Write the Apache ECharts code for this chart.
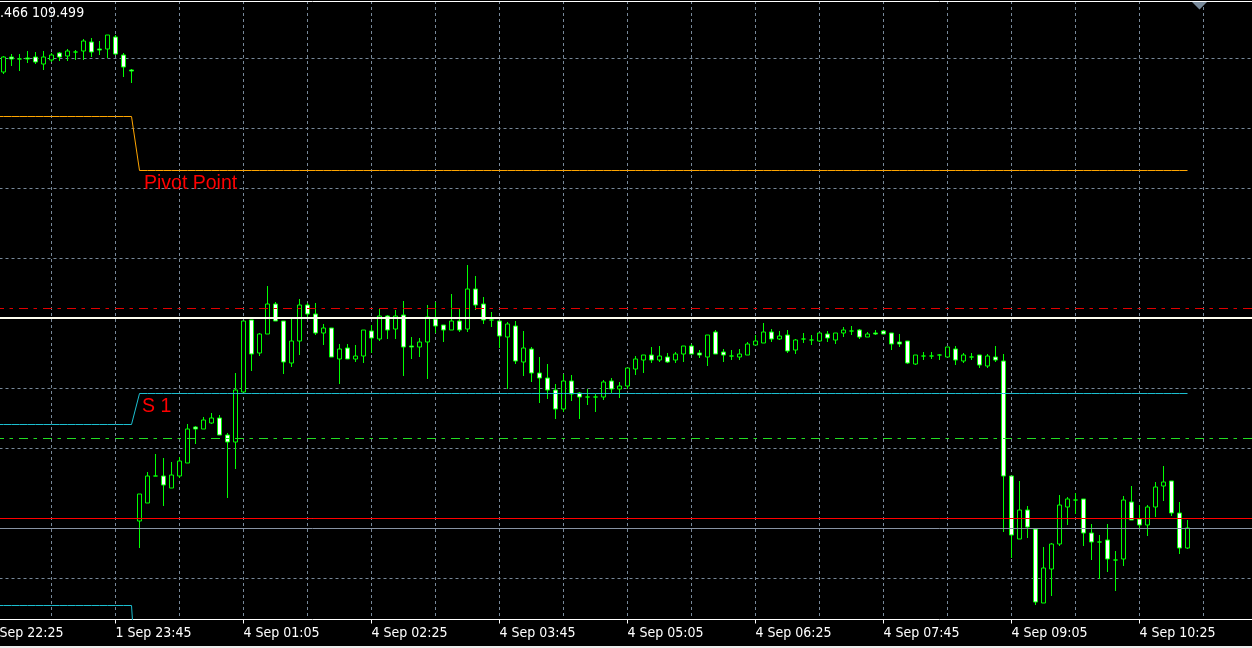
<!DOCTYPE html>
<html>
<head>
<meta charset="utf-8">
<script src="https://cdn.jsdelivr.net/npm/echarts@6/dist/echarts.min.js"></script>
<style>
html,body{margin:0;padding:0;background:#000;}
#chart{width:1252px;height:648px;}
</style>
</head>
<body>
<div id="chart"></div>
<script>
// ---------- DATA ----------
// trading sessions shown on the time axis (M5 bars)
const sessionDays   = ['1 Sep', '4 Sep'];
const sessionStarts = ['22:25', '00:00'];
const sessionBars   = [19, 141];
const leadingEmptyBars = 2; // 22:25 and 22:30 bars are off the left edge

// OHLC of the visible candles (1 Sep 22:35 ... 4 Sep 10:55)
const openPrices = [
109.946,109.961,109.959,109.960,109.961,109.954,109.958,109.965,109.962,109.966,
109.967,109.976,109.969,109.969,109.981,109.963,109.948,
109.497,109.515,109.542,109.542,109.530,109.542,109.555,109.591,109.589,109.595,
109.600,109.583,109.576,109.626,109.698,109.665,109.684,109.714,109.697,109.655,
109.677,109.713,109.704,109.685,109.690,109.659,109.670,109.659,109.662,109.687,
109.679,109.702,109.689,109.703,109.672,109.671,109.676,109.699,109.693,109.688,
109.697,109.689,109.729,109.714,109.698,109.697,109.681,109.692,109.656,109.669,
109.645,109.640,109.628,109.609,109.637,109.625,109.621,109.621,109.621,109.637,
109.629,109.632,109.649,109.658,109.663,109.658,109.661,109.658,109.664,109.672,
109.665,109.661,109.686,109.666,109.662,109.661,109.663,109.673,109.675,109.686,
109.679,109.683,109.668,109.679,109.678,109.677,109.684,109.678,109.685,109.687,
109.688,109.681,109.685,109.687,109.685,109.676,109.677,109.654,109.662,109.662,
109.663,109.661,109.669,109.657,109.661,109.663,109.652,109.661,109.657,109.542,
109.479,109.508,109.489,109.415,109.449,109.474,109.511,109.518,109.519,109.485,
109.476,109.478,109.458,109.459,109.516,109.499,109.493,109.511,109.532,109.537,
109.505,109.470
];
const highPrices = [
109.962,109.964,109.964,109.967,109.966,109.967,109.965,109.966,109.969,109.968,
109.979,109.980,109.977,109.983,109.983,109.965,109.949,
109.524,109.546,109.564,109.560,109.556,109.561,109.594,109.592,109.601,109.605,
109.603,109.585,109.645,109.697,109.698,109.685,109.732,109.716,109.697,109.701,
109.719,109.715,109.715,109.694,109.690,109.674,109.674,109.673,109.688,109.693,
109.709,109.703,109.708,109.717,109.681,109.680,109.713,109.716,109.693,109.724,
109.709,109.753,109.742,109.721,109.706,109.697,109.696,109.697,109.687,109.671,
109.661,109.654,109.634,109.644,109.643,109.626,109.629,109.624,109.638,109.640,
109.636,109.650,109.662,109.663,109.671,109.672,109.665,109.666,109.672,109.674,
109.668,109.683,109.688,109.669,109.668,109.669,109.676,109.683,109.695,109.689,
109.687,109.688,109.679,109.685,109.683,109.685,109.687,109.685,109.691,109.692,
109.689,109.686,109.688,109.688,109.685,109.684,109.677,109.663,109.666,109.666,
109.664,109.671,109.672,109.665,109.665,109.663,109.664,109.672,109.664,109.542,
109.537,109.512,109.489,109.471,109.475,109.523,109.521,109.525,109.519,109.494,
109.483,109.494,109.467,109.522,109.532,109.513,109.513,109.536,109.552,109.537,
109.516,109.498
];
const lowPrices = [
109.944,109.952,109.947,109.955,109.954,109.948,109.956,109.957,109.957,109.958,
109.958,109.961,109.963,109.960,109.963,109.941,109.935,
109.470,109.515,109.542,109.512,109.530,109.540,109.555,109.574,109.589,109.594,
109.583,109.520,109.549,109.626,109.647,109.662,109.684,109.697,109.644,109.651,
109.663,109.701,109.683,109.673,109.661,109.634,109.659,109.656,109.655,109.665,
109.677,109.679,109.679,109.642,109.659,109.661,109.639,109.685,109.676,109.688,
109.686,109.686,109.708,109.694,109.691,109.670,109.629,109.654,109.642,109.636,
109.615,109.619,109.599,109.606,109.617,109.599,109.613,109.606,109.618,109.625,
109.620,109.629,109.643,109.645,109.655,109.656,109.655,109.655,109.656,109.664,
109.660,109.652,109.664,109.656,109.658,109.658,109.663,109.673,109.675,109.676,
109.678,109.665,109.664,109.675,109.673,109.676,109.676,109.674,109.681,109.683,
109.679,109.681,109.683,109.684,109.668,109.671,109.654,109.653,109.658,109.659,
109.658,109.661,109.653,109.655,109.658,109.650,109.650,109.656,109.486,109.460,
109.479,109.480,109.413,109.415,109.422,109.472,109.493,109.504,109.472,109.458,
109.439,109.446,109.427,109.452,109.498,109.489,109.482,109.501,109.517,109.502,
109.464,109.469
];
const closePrices = [
109.961,109.959,109.959,109.959,109.956,109.961,109.963,109.961,109.967,109.966,
109.977,109.966,109.968,109.983,109.964,109.951,109.947,
109.524,109.542,109.542,109.533,109.543,109.557,109.589,109.589,109.598,109.600,
109.583,109.576,109.628,109.697,109.664,109.684,109.714,109.697,109.656,109.677,
109.713,109.704,109.685,109.690,109.661,109.669,109.659,109.662,109.688,109.680,
109.702,109.688,109.702,109.671,109.671,109.676,109.701,109.692,109.688,109.697,
109.688,109.729,109.713,109.698,109.698,109.682,109.694,109.657,109.670,109.645,
109.640,109.628,109.609,109.637,109.624,109.621,109.621,109.621,109.636,109.629,
109.632,109.650,109.659,109.663,109.658,109.662,109.656,109.664,109.672,109.664,
109.663,109.683,109.664,109.663,109.662,109.664,109.674,109.677,109.686,109.679,
109.682,109.667,109.678,109.679,109.678,109.685,109.680,109.685,109.688,109.687,
109.681,109.684,109.684,109.684,109.674,109.674,109.655,109.663,109.662,109.662,
109.663,109.671,109.658,109.663,109.661,109.653,109.662,109.658,109.542,109.483,
109.508,109.491,109.416,109.450,109.474,109.513,109.519,109.518,109.485,109.476,
109.476,109.459,109.458,109.518,109.498,109.493,109.511,109.531,109.536,109.505,
109.470,109.490
];

// Pivot indicator levels: [previous day, current day]
const pivotLevel = [109.9015, 109.8475];
const s1Level    = [109.5935, 109.6245];
const s2Level    = [109.4125, 109.2930];
const lastFridayBarIndex = 16; // index in candle arrays of last 1 Sep bar

// Horizontal objects on the chart
const whiteLineLevel    = 109.6990;
const redDashLevel      = 109.7065;
const greenDashLevel    = 109.5835;
const redSolidLevel     = 109.5015;
const greySolidLevel    = 109.4895;

// Price grid levels
const gridLevels = [109.9595,109.8945,109.8295,109.7625,109.6975,109.6325,109.5675,109.5025,109.4355];

// Header text (bar prices)
const headerText = '109.466 109.499';

// axis price range visible in the window
const priceMin = 109.3985, priceMax = 110.017;

// ---------- BUILD ----------
function pad(n){ return (n < 10 ? '0' : '') + n; }
const categories = [];
sessionDays.forEach((d, s) => {
  const [hh, mm] = sessionStarts[s].split(':').map(Number);
  const start = hh * 60 + mm;
  for (let j = 0; j < sessionBars[s]; j++) {
    const m = start + 5 * j;
    categories.push(d + ' ' + pad(Math.floor(m / 60) % 24) + ':' + pad(m % 60));
  }
});
const N = categories.length;

const candleData = [];
const pivotData = [], s1Data = [], s2Data = [];
for (let i = 0; i < N; i++) {
  const k = i - leadingEmptyBars;
  if (k >= 0 && k < openPrices.length) {
    candleData.push([openPrices[k], closePrices[k], lowPrices[k], highPrices[k]]);
  } else {
    candleData.push('-');
  }
  if (k < openPrices.length) {
    const day = k <= lastFridayBarIndex ? 0 : 1;
    pivotData.push(pivotLevel[day]);
    s1Data.push(s1Level[day]);
    s2Data.push(s2Level[day]);
  } else {
    pivotData.push(null); s1Data.push(null); s2Data.push(null);
  }
}

const STEP = 8;
const gridLeft = -12.5;
const gridColor = '#778899';
const labelEvery = 16, gridEvery = 8;
const uiFont = '"DejaVu Sans Condensed", "DejaVu Sans", sans-serif';

const chart = echarts.init(document.getElementById('chart'), null, {renderer: 'canvas'});
chart.setOption({
  animation: false,
  backgroundColor: '#000000',
  grid: {
    left: gridLeft, top: 1, width: STEP * (N - 1), height: 618.5,
    containLabel: false, outerBoundsMode: 'none'
  },
  xAxis: [{
    type: 'category', data: categories, boundaryGap: false, position: 'bottom',
    axisLine: { show: true, lineStyle: { color: '#ffffff', width: 1 } },
    axisTick: { show: true, interval: (i) => i % labelEvery === 0, length: 4, lineStyle: { color: '#ffffff' } },
    axisLabel: {
      show: true, interval: (i) => i % labelEvery === 0, align: 'left', margin: 7,
      color: '#ffffff', fontFamily: uiFont, fontSize: 14
    },
    splitLine: { show: true, interval: (i) => i % gridEvery === 0, lineStyle: { color: gridColor, type: [3, 3], width: 1 } }
  }, {
    type: 'category', data: categories, boundaryGap: false, position: 'top',
    axisLine: { show: true, lineStyle: { color: '#ffffff', width: 1 } },
    axisTick: { show: false }, axisLabel: { show: false }, splitLine: { show: false }
  }],
  yAxis: { type: 'value', min: priceMin, max: priceMax, show: false, scale: true, splitLine: { show: false } },
  series: [
    {
      name: 'grid', type: 'line', data: [], z: 0, silent: true,
      markLine: {
        z: 0, silent: true, symbol: ['none', 'none'], label: { show: false }, animation: false,
        lineStyle: { color: gridColor, type: [3, 3], width: 1 },
        data: gridLevels.map(v => ({ yAxis: v }))
      }
    },
    {
      name: 'USDJPY,M5', type: 'candlestick', data: candleData, barWidth: 4, z: 3,
      itemStyle: {
        color: '#000000', color0: '#ffffff',
        borderColor: '#00ff00', borderColor0: '#00ff00', borderColorDoji: '#00ff00',
        borderWidth: 1
      }
    },
    {
      name: 'Pivot Point', type: 'line', data: pivotData, symbol: 'none', z: 4, clip: true,
      lineStyle: { color: '#ffa500', width: 1 }
    },
    {
      name: 'S 1', type: 'line', data: s1Data, symbol: 'none', z: 4, clip: true,
      lineStyle: { color: '#1cbfd0', width: 1 }
    },
    {
      name: 'S 2', type: 'line', data: s2Data, symbol: 'none', z: 4, clip: true,
      lineStyle: { color: '#1cbfd0', width: 1 }
    },
    {
      name: 'levels', type: 'line', data: [], z: 5, silent: true,
      markLine: {
        z: 6, silent: true, symbol: ['none', 'none'], label: { show: false }, animation: false,
        data: [
          { yAxis: redDashLevel,   lineStyle: { color: '#e00000', width: 1, type: [9, 5.5, 3.5, 6], dashOffset: 16.5 } },
          { yAxis: greenDashLevel, lineStyle: { color: '#22dd22', width: 1, type: [9, 5.5, 3.5, 6], dashOffset: 16.5 } },
          { yAxis: redSolidLevel,  lineStyle: { color: '#ff0000', width: 1, type: 'solid' } },
          { yAxis: greySolidLevel, lineStyle: { color: '#8894a4', width: 1, type: 'solid' } },
          { yAxis: whiteLineLevel, lineStyle: { color: '#fffff0', width: 2, type: 'solid' } }
        ]
      }
    }
  ],
  graphic: [
    { type: 'text', x: -24, y: 13, z: 100,
      style: { text: headerText, fill: '#ffffff', font: '14px ' + uiFont, align: 'left', verticalAlign: 'middle' } },
    { type: 'text', x: 144, y: 183.5, z: 100,
      style: { text: 'Pivot Point', fill: '#ff0000', font: '19.5px "Liberation Sans"', align: 'left', verticalAlign: 'middle' } },
    { type: 'text', x: 142, y: 406.5, z: 100,
      style: { text: 'S 1', fill: '#ff0000', font: '19.5px "Liberation Sans"', align: 'left', verticalAlign: 'middle' } },
    { type: 'polygon', z: 100, shape: { points: [[1192, 2], [1207, 2], [1199.5, 9.5]] }, style: { fill: '#778899' } },
    { type: 'rect', z: 100, shape: { x: 0, y: 646, width: 1252, height: 2 }, style: { fill: '#ececec' } }
  ]
});
</script>
</body>
</html>
